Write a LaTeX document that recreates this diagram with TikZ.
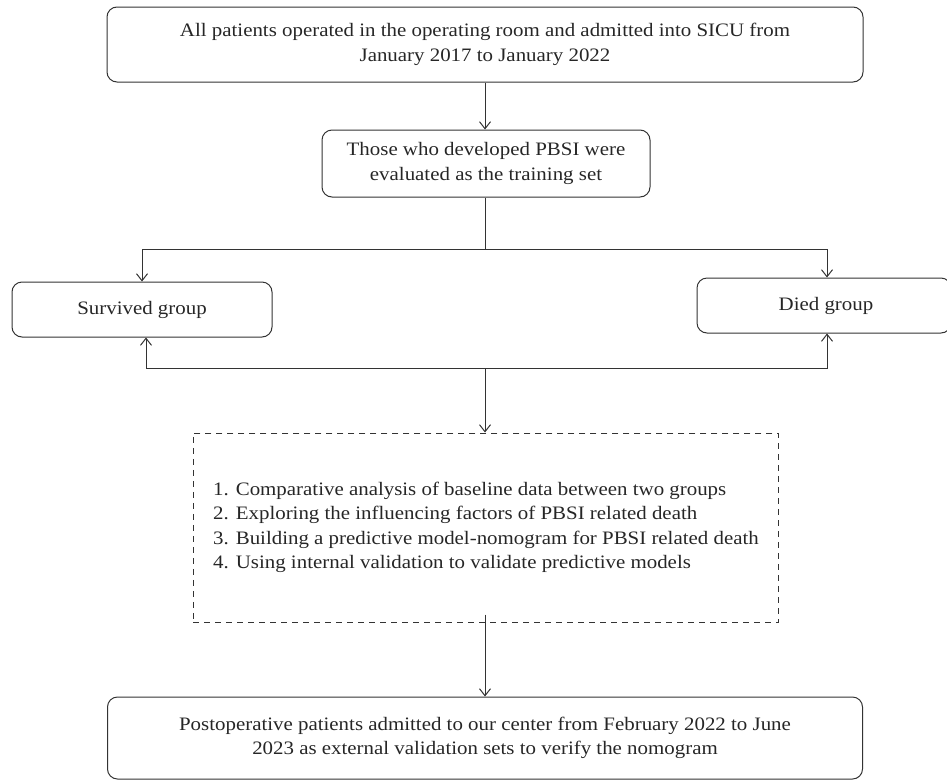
\documentclass[tikz,border=0pt]{standalone}
\usepackage{fontspec}
\setmainfont{Liberation Serif}[FakeStretch=1.1]
\usetikzlibrary{arrows.meta}
\begin{document}
\begin{tikzpicture}[x=1pt,y=-1pt,
  box/.style={draw=black!80, line width=1pt, rounded corners=10pt, inner sep=0pt},
  conn/.style={draw=black!80, line width=1pt},
  arr/.style={conn, -{Straight Barb[length=7pt,width=11pt]}},
  txt/.style={font=\fontsize{19}{24.5}\selectfont, align=center, text=black!85}]
\useasboundingbox (0,0) rectangle (947,782);
\node[box, minimum width=756, minimum height=75] (top) at (485,44.5) {};
\node[txt] at (top) {All patients operated in the operating room and admitted into SICU from\\January 2017 to January 2022};
\node[box, minimum width=328, minimum height=67] (pbsi) at (486,163.5) {};
\node[txt] at (pbsi) {Those who developed PBSI were\\evaluated as the training set};
\node[box, minimum width=260, minimum height=55] (surv) at (142,309.5) {};
\node[txt] at (surv) {Survived group};
\node[box, minimum width=254, minimum height=55] (died) at (824,305.5) {};
\node[txt] at ([xshift=2pt]died.center) {Died group};
\node[draw=black!80, line width=1pt, dash pattern=on 6pt off 5pt, inner xsep=20pt, minimum height=189, txt, align=left] (dash) at (486,527.5) {1. Comparative analysis of baseline data between two groups\\2. Exploring the influencing factors of PBSI related death\\3. Building a predictive model-nomogram for PBSI related death\\4. Using internal validation to validate predictive models};
\node[box, minimum width=755, minimum height=82] (bot) at (485,738) {};
\node[txt] at (bot) {Postoperative patients admitted to our center from February 2022 to June\\2023 as external validation sets to verify the nomogram};
\coordinate (s1) at (485,249);
\coordinate (s2) at (485,368);
\draw[arr] (top.south -| s1) -- (pbsi.north -| s1);
\draw[conn] (pbsi.south -| s1) -- (s1);
\draw[arr] (s1) -| (surv.north);
\draw[arr] (s1) -| ([xshift=3pt]died.north);
\draw[arr] (s2) -| ([xshift=4pt]surv.south);
\draw[arr] (s2) -| ([xshift=3pt]died.south);
\draw[arr] (s2) -- (dash.north -| s2);
\draw[arr] ([yshift=8pt]dash.south -| s2) -- (bot.north -| s2);
\end{tikzpicture}
\end{document}
